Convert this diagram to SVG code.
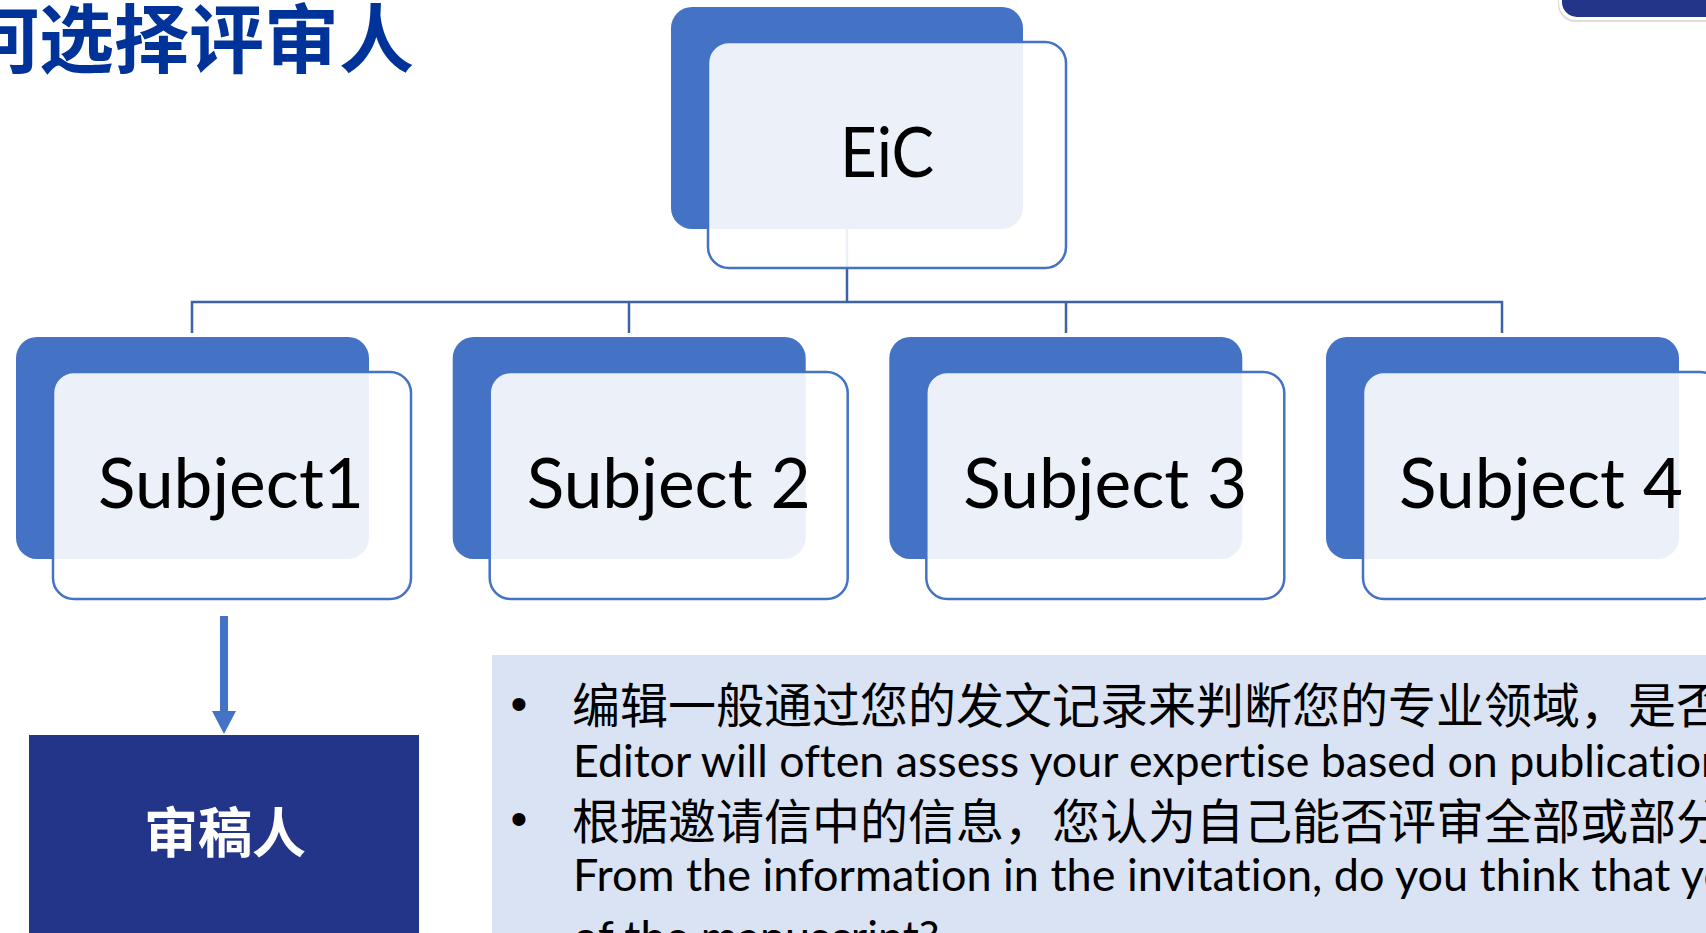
<svg xmlns="http://www.w3.org/2000/svg" width="1706" height="933" viewBox="0 0 1706 933">
<style>
.back{fill:#4472C4}
.front{fill:#FFFFFF;fill-opacity:0.9;stroke:#4472C4;stroke-width:2.5}
.lbl{font-family:Lato,"Noto Sans","Liberation Sans",sans-serif;font-size:70px;fill:#000;text-anchor:middle;font-variant-ligatures:none}
.conn{fill:none;stroke:#3C62A8;stroke-width:2.5}
.cjk{font-family:"Noto Sans CJK SC",sans-serif;font-size:48px;fill:#000}
.en{font-family:Lato,"Noto Sans","Liberation Sans",sans-serif;font-size:44px;fill:#000;font-variant-ligatures:none;font-feature-settings:"liga" 0,"clig" 0,"dlig" 0}
.bul{font-family:"Liberation Sans",Arial,sans-serif;font-size:48px;fill:#000}
</style>
<rect x="0" y="0" width="1706" height="933" fill="#FFFFFF"/>

<g id="title">
<text x="-36" y="67" font-family="'Noto Sans CJK SC',sans-serif" font-size="75" font-weight="bold" fill="#003399">何选择评审人</text>
</g>

<g id="corner-tab">
<rect x="1558" y="-40" width="200" height="62" rx="17" fill="#DDDDDD"/>
<rect x="1559" y="-40" width="200" height="60" rx="17" fill="#FFFFFF"/>
<rect x="1562" y="-40" width="200" height="57" rx="15" fill="#233588"/>
</g>

<g id="connectors">
<line class="conn" x1="847" y1="229" x2="847" y2="302"/>
<polyline class="conn" points="192,333 192,302 1502,302 1502,333"/>
<line class="conn" x1="629" y1="302" x2="629" y2="333"/>
<line class="conn" x1="1066" y1="302" x2="1066" y2="333"/>
<polygon points="220,616 228,616 228,711 236,711 224,734 212,711 220,711" fill="#4472C4"/>
</g>

<g id="node-eic">
<rect class="back" x="671" y="7" width="352" height="222" rx="21"/>
<rect class="front" x="708" y="42" width="358" height="226" rx="21"/>
<text class="lbl" x="887" y="177" textLength="94" lengthAdjust="spacingAndGlyphs">EiC</text>
</g>

<g id="node-subject1">
<rect class="back" x="16" y="337" width="353" height="222" rx="21"/>
<rect class="front" x="53" y="372" width="358" height="227" rx="21"/>
<text class="lbl" x="231" y="508" textLength="266" lengthAdjust="spacingAndGlyphs">Subject1</text>
</g>

<g id="node-subject2">
<rect class="back" x="452.7" y="337" width="353" height="222" rx="21"/>
<rect class="front" x="489.7" y="372" width="358" height="227" rx="21"/>
<text class="lbl" x="668.7" y="508" textLength="284" lengthAdjust="spacingAndGlyphs">Subject 2</text>
</g>

<g id="node-subject3">
<rect class="back" x="889.3" y="337" width="353" height="222" rx="21"/>
<rect class="front" x="926.3" y="372" width="358" height="227" rx="21"/>
<text class="lbl" x="1105.3" y="508" textLength="284" lengthAdjust="spacingAndGlyphs">Subject 3</text>
</g>

<g id="node-subject4">
<rect class="back" x="1326" y="337" width="353" height="222" rx="21"/>
<rect class="front" x="1363" y="372" width="358" height="227" rx="21"/>
<text class="lbl" x="1541" y="508" textLength="284" lengthAdjust="spacingAndGlyphs">Subject 4</text>
</g>

<g id="node-reviewer">
<rect x="29" y="735" width="390" height="220" fill="#233588"/>
<text x="225" y="853" font-family="'Noto Sans CJK SC',sans-serif" font-size="54" font-weight="bold" fill="#FFFFFF" text-anchor="middle">审稿人</text>
</g>

<g id="note">
<rect x="492" y="655" width="1230" height="300" fill="#DAE3F3"/>
<text class="bul" x="510.6" y="720">•</text>
<text class="bul" x="510.6" y="835">•</text>
<text class="cjk" x="572" y="723">编辑一般通过您的发文记录来判断您的专业领域，是否</text>
<text class="en" x="573" y="777" textLength="1153" lengthAdjust="spacingAndGlyphs">Editor will often assess your expertise based on publication</text>
<text class="cjk" x="572" y="839">根据邀请信中的信息，您认为自己能否评审全部或部分</text>
<text class="en" x="573" y="891" textLength="1181" lengthAdjust="spacingAndGlyphs">From the information in the invitation, do you think that you</text>
<text class="en" x="573" y="953" textLength="366" lengthAdjust="spacingAndGlyphs">of the manuscript?</text>
</g>
</svg>
